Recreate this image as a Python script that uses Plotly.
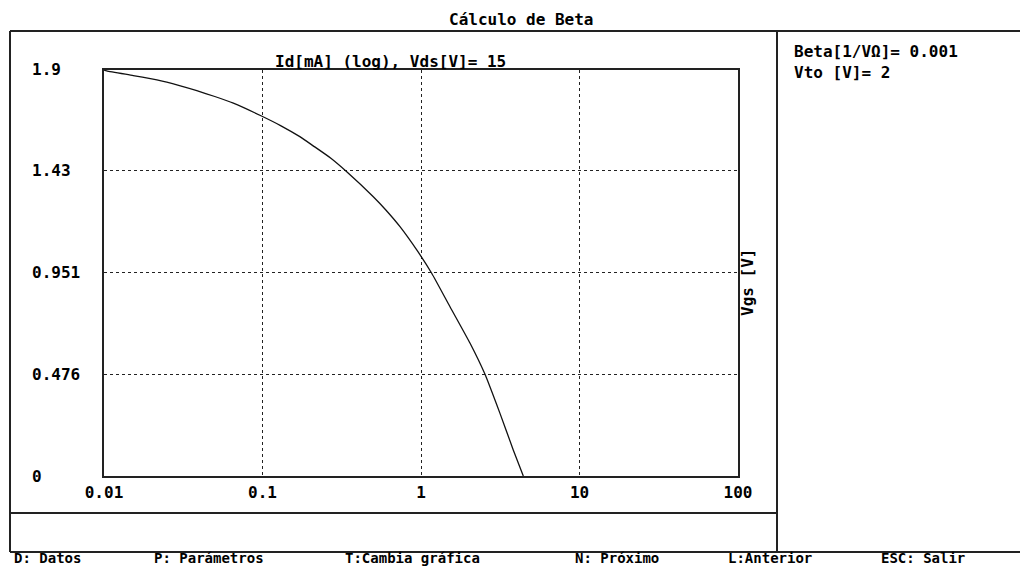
import plotly.graph_objects as go

# Data
id_ma = [0.0100, 0.0104, 0.0153, 0.0200, 0.0249, 0.0385, 0.0500, 0.0655, 0.0978,
         0.130, 0.172, 0.209, 0.270, 0.340, 0.500, 0.600, 0.737, 0.940, 1.168,
         1.524, 2.04, 2.53, 3.15, 3.82, 4.42]
vgs_v = [1.900, 1.896, 1.874, 1.858, 1.843, 1.803, 1.776, 1.745, 1.686,
         1.640, 1.588, 1.545, 1.487, 1.424, 1.307, 1.245, 1.167, 1.058, 0.949,
         0.792, 0.621, 0.477, 0.293, 0.122, 0.0]

x_tick_vals = [0.01, 0.1, 1, 10, 100]
x_tick_text = ["0.01", "0.1", "1", "10", "100"]
y_tick_vals = [0, 0.476, 0.951, 1.43, 1.9]
y_tick_text = ["0", "0.476", "0.951", "1.43", "1.9"]

footer_items = ["D: Datos", "P: Parámetros", "T:Cambia gráfica",
                "N: Próximo", "L:Anterior", "ESC: Salir"]
footer_cols = [1, 12, 27, 45, 57, 69]

W, H = 1020, 568
FONT = "DejaVu Sans Mono"
FS = 16


def px(x):
    return x / W


def py(y):
    return 1 - y / H


fig = go.Figure()
fig.add_trace(go.Scatter(x=id_ma, y=vgs_v, mode="lines",
                         line=dict(color="#111111", width=1.3, shape="spline",
                                   smoothing=0.5),
                         showlegend=False, hoverinfo="skip"))

fig.update_layout(
    template="none",
    width=W, height=H,
    margin=dict(l=0, r=0, t=0, b=0, pad=0),
    paper_bgcolor="white", plot_bgcolor="white",
    font=dict(family=FONT, size=FS, color="black", weight="bold"),
    xaxis=dict(type="log", range=[-2, 2], domain=[px(104), px(738)],
               automargin=False,
               showline=True, mirror=True, linecolor="#222222", linewidth=2,
               showgrid=True, gridcolor="#222222", griddash="dot", gridwidth=1,
               tickvals=x_tick_vals, ticktext=x_tick_text, ticks="",
               zeroline=False, ticklabelstandoff=1,
               tickfont=dict(family=FONT, size=FS, color="black", weight="bold")),
    yaxis=dict(range=[0, 1.9], domain=[py(476), py(70)],
               automargin=False,
               showline=True, mirror=True, linecolor="#222222", linewidth=2,
               showgrid=True, gridcolor="#222222", griddash="dot", gridwidth=1,
               tickvals=y_tick_vals, showticklabels=False, ticks="",
               zeroline=False),
)

# Frame lines of the screen layout
line_style = dict(color="#222222", width=2)
frame = [
    (10, 31, 1020, 31),
    (10, 31, 10, 552),
    (10, 552, 1020, 552),
    (777, 31, 777, 552),
    (10, 513, 777, 513),
]
for x0, y0, x1, y1 in frame:
    fig.add_shape(type="line", xref="paper", yref="paper",
                  x0=px(x0), y0=py(y0), x1=px(x1), y1=py(y1), line=line_style)

# Y tick labels (left aligned, as in the reference)
for v, t in zip(y_tick_vals, y_tick_text):
    fig.add_annotation(x=px(30), y=v, xref="paper", yref="y", text=t,
                       showarrow=False, xanchor="left", yanchor="middle")

# Titles and texts
fig.add_annotation(x=px(521), y=py(20), xref="paper", yref="paper",
                   text="Cálculo de Beta", showarrow=False,
                   xanchor="center", yanchor="middle")
fig.add_annotation(x=px(390), y=py(62), xref="paper", yref="paper",
                   text="Id[mA] (log), Vds[V]= 15", showarrow=False,
                   xanchor="center", yanchor="middle")
fig.add_annotation(x=px(748), y=py(283), xref="paper", yref="paper",
                   text="Vgs [V]", showarrow=False, textangle=-90,
                   xanchor="center", yanchor="middle")
fig.add_annotation(x=px(792), y=py(52), xref="paper", yref="paper",
                   text="Beta[1/VΩ]= 0.001", showarrow=False,
                   xanchor="left", yanchor="middle")
fig.add_annotation(x=px(792), y=py(72), xref="paper", yref="paper",
                   text="Vto [V]= 2", showarrow=False,
                   xanchor="left", yanchor="middle")

for item, col in zip(footer_items, footer_cols):
    fig.add_annotation(x=px(col * 12.75), y=py(567), xref="paper", yref="paper",
                       text=item, showarrow=False, borderpad=0,
                       font=dict(family=FONT, size=14, color="black", weight="bold"),
                       xanchor="left", yanchor="bottom")

fig.write_html("out.html")
